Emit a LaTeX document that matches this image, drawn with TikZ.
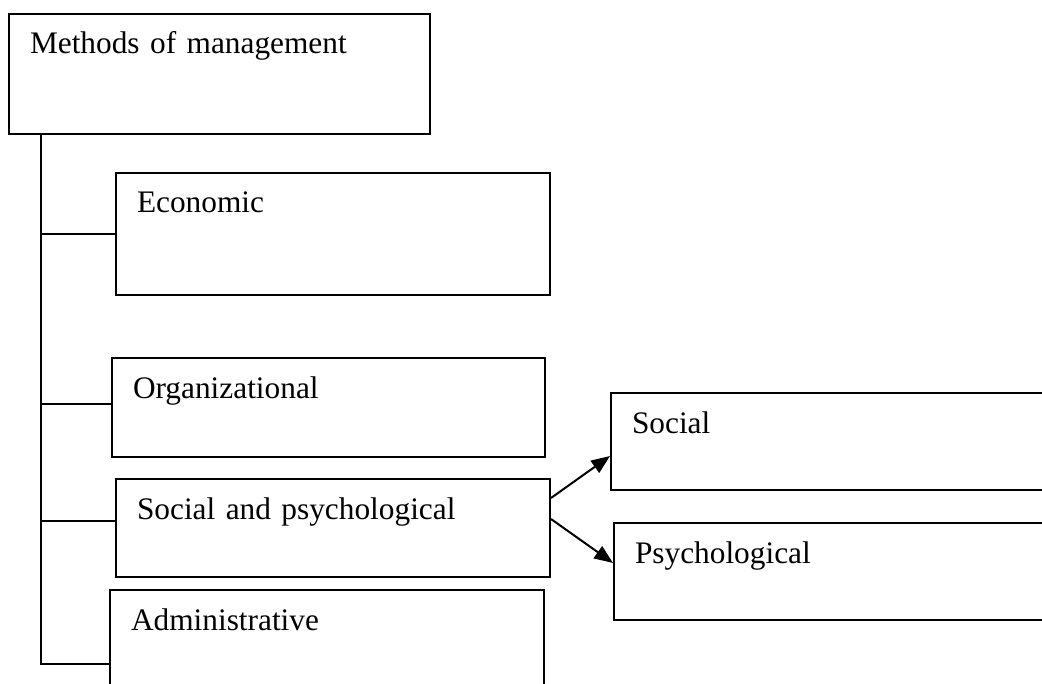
\documentclass[tikz,border=0pt]{standalone}
\usepackage{fontspec}
\setmainfont{Liberation Serif}
\usepackage{tikz}
\usetikzlibrary{positioning, arrows.meta}

\begin{document}
\begin{tikzpicture}[x=0.75pt, y=-0.75pt, line width=1.5pt,
  box/.style 2 args={draw, anchor=north west, inner xsep=15.75pt, inner ysep=0pt,
        text width=#1, text height=30pt, text depth=#2, align=left,
        font=\fontsize{23.5}{28}\selectfont},
  arr/.style={-{Triangle[length=14pt, width=11pt]}}]
  \clip (0,0) rectangle (1042,684);
  \fill[white] (0,0) rectangle (1042,684);

  % boxes
  \node[box={284.25pt}{60pt}]    (methods) at (8,13)    {Methods of management};
  \node[box={294pt}{61.5pt}]     (econ)    at (115,172) {Economic};
  \node[box={293.25pt}{44.25pt}] (org)     at (111,357) {Organizational};
  \node[box={294pt}{43.5pt}]     (socpsy)  at (115,478) {Social and psychological};
  \node[box={294pt}{81pt}]       (admin)   at (109,589) {Administrative};
  \node[box={294pt}{42.75pt}]    (soc)     at (610,392) {Social};
  \node[box={294pt}{42.75pt}]    (psy)     at (613,522) {Psychological};

  % tree on the left
  \coordinate (trunk) at ([xshift=24.75pt]methods.south west);
  \draw (trunk) |- (admin.west);
  \draw (trunk |- econ.west) -- (econ.west);
  \draw ([yshift=3pt]trunk |- org.west) -- ([yshift=3pt]org.west);
  \draw ([yshift=5.25pt]trunk |- socpsy.west) -- ([yshift=5.25pt]socpsy.west);

  % split arrows
  \draw[arr] ([yshift=22.5pt]socpsy.east) -- ([yshift=-10.9pt]soc.west);
  \draw[arr] ([yshift=6.75pt]socpsy.east) -- ([yshift=6.4pt]psy.west);
\end{tikzpicture}
\end{document}
